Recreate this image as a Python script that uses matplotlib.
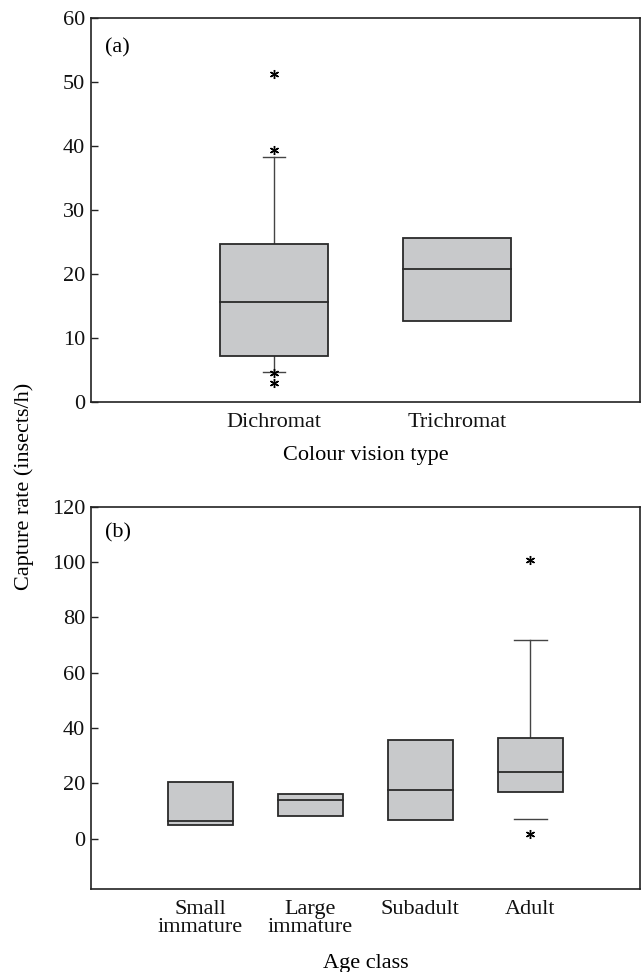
import matplotlib
matplotlib.use("Agg")
import matplotlib.pyplot as plt
from matplotlib.patches import Rectangle

# ---- data ----
vision_types = ["Dichromat", "Trichromat"]
vision_q1 = [7.2, 12.75]
vision_med = [15.6, 20.8]
vision_q3 = [24.8, 25.7]
vision_whislo = [4.8, None]
vision_whishi = [38.3, None]
vision_lowline = [True, False]
vision_outliers = [[51.3, 39.4, 4.6, 3.0], []]

age_classes = ["Small\nimmature", "Large\nimmature", "Subadult", "Adult"]
age_q1 = [4.9, 8.1, 6.9, 16.9]
age_med = [6.5, 14.0, 17.5, 24.0]
age_q3 = [20.6, 16.3, 35.7, 36.3]
age_whislo = [None, None, None, 7.1]
age_whishi = [None, None, None, 71.9]
age_lowline = [False, False, False, False]
age_outliers = [[], [], [], [100.7, 1.7]]

vision_yticks = [0, 10, 20, 30, 40, 50, 60]
age_yticks = [0, 20, 40, 60, 80, 100, 120]

plt.rcParams['font.family'] = ['Liberation Serif', 'DejaVu Serif']
FS = 16

BOX_FC = '#c8c9cb'
BOX_EC = '#2a2a2a'
WHISK_C = '#444444'


def draw_boxes(ax, q1s, meds, q3s, los, his, lowlines, outs, width, capw):
    for i in range(len(q1s)):
        pos = i + 1
        q1, med, q3 = q1s[i], meds[i], q3s[i]
        ax.add_patch(Rectangle((pos - width / 2, q1), width, q3 - q1,
                               facecolor=BOX_FC, edgecolor=BOX_EC, lw=1.3, zorder=2))
        ax.plot([pos - width / 2, pos + width / 2], [med, med], color=BOX_EC, lw=1.3, zorder=3)
        hi = his[i]
        if hi is not None:
            ax.plot([pos, pos], [q3, hi], color=WHISK_C, lw=1.0, zorder=1)
            ax.plot([pos - capw / 2, pos + capw / 2], [hi, hi], color=WHISK_C, lw=1.0, zorder=1)
        lo = los[i]
        if lo is not None:
            if lowlines[i]:
                ax.plot([pos, pos], [lo, q1], color=WHISK_C, lw=1.0, zorder=1)
            ax.plot([pos - capw / 2, pos + capw / 2], [lo, lo], color=WHISK_C, lw=1.0, zorder=1)
        for v in outs[i]:
            ax.plot([pos], [v], linestyle='none', marker=(6, 2, 0), markersize=6.5,
                    markeredgewidth=1.0, color='black', zorder=4)


def style(ax):
    for s in ax.spines.values():
        s.set_linewidth(1.2)
        s.set_color('#222222')
    ax.tick_params(axis='y', direction='in', length=5, width=1.0, labelsize=FS, pad=4,
                   colors='#222222', labelcolor='#111111')
    ax.tick_params(axis='x', length=0, labelsize=FS, pad=8, labelcolor='#111111')


fig = plt.figure(figsize=(6.42, 9.72), dpi=100)

# ---- panel (a) ----
ax1 = fig.add_axes([0.1413, 0.5861, 0.8557, 0.3951])
draw_boxes(ax1, vision_q1, vision_med, vision_q3, vision_whislo, vision_whishi,
           vision_lowline, vision_outliers, width=0.59, capw=0.12)
ax1.set_xlim(0, 3)
ax1.set_ylim(0, 60)
ax1.set_yticks(vision_yticks)
ax1.set_xticks([1, 2])
ax1.set_xticklabels(vision_types)
ax1.set_xlabel("Colour vision type", fontsize=FS, labelpad=10)
ax1.text(0.026, 0.923, "(a)", transform=ax1.transAxes, fontsize=FS, va='center', ha='left')
style(ax1)

# ---- panel (b) ----
ax2 = fig.add_axes([0.1413, 0.0854, 0.8557, 0.3933])
draw_boxes(ax2, age_q1, age_med, age_q3, age_whislo, age_whishi,
           age_lowline, age_outliers, width=0.59, capw=0.30)
ax2.set_xlim(0, 5)
ax2.set_ylim(-18.2, 120)
ax2.set_yticks(age_yticks)
ax2.set_xticks([1, 2, 3, 4])
ax2.set_xticklabels(age_classes, linespacing=0.95)
ax2.set_xlabel("Age class", fontsize=FS, labelpad=12)
ax2.text(0.026, 0.931, "(b)", transform=ax2.transAxes, fontsize=FS, va='center', ha='left')
style(ax2)

fig.text(0.038, 0.5, "Capture rate (insects/h)", rotation=90, fontsize=FS,
         va='center', ha='center')

fig.savefig("out.png", dpi=100)
